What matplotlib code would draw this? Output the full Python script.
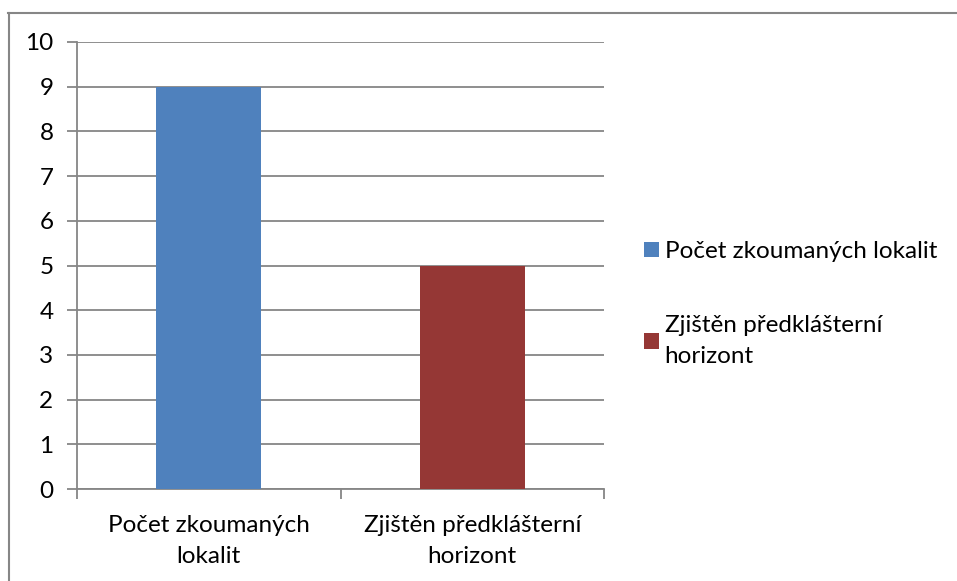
import matplotlib.pyplot as plt
from matplotlib.lines import Line2D
from matplotlib.patches import Patch

categories = ["Počet zkoumaných\nlokalit", "Zjištěn předklášterní\nhorizont"]
legend_labels = ["Počet zkoumaných lokalit", "Zjištěn předklášterní\nhorizont"]
values = [9, 5]
colors = ["#4F81BD", "#953735"]
yticks = list(range(0, 11))

plt.rcParams['font.family'] = ['Lato', 'DejaVu Sans']
grid_c = "#868686"
fs = 17.5

fig = plt.figure(figsize=(9.57, 5.81), dpi=100)
ax = fig.add_axes([77 / 957, 1 - 489 / 581, (604 - 77) / 957, (489 - 42) / 581])

x = list(range(len(values)))
ax.bar(x, values, width=0.4, color=colors, zorder=3)

ax.set_xlim(-0.5, len(values) - 0.5)
ax.set_ylim(0, 10)
ax.set_yticks(yticks)
ax.set_yticklabels([str(v) for v in yticks], fontsize=fs)
ax.yaxis.grid(True, color=grid_c, linewidth=1.3, zorder=0)
ax.tick_params(axis='y', length=7, width=1.3, color=grid_c, pad=10)

ax.set_xticks(x)
ax.set_xticklabels(categories, fontsize=fs, linespacing=1.55)
ax.tick_params(axis='x', which='major', length=0, pad=19)
ax.set_xticks([-0.5, 0.5, 1.5], minor=True)
ax.tick_params(axis='x', which='minor', length=7, width=1.3, color=grid_c)

for s in ['top', 'right']:
    ax.spines[s].set_visible(False)
for s in ['left', 'bottom']:
    ax.spines[s].set_color(grid_c)
    ax.spines[s].set_linewidth(1.3)

handles = [Patch(facecolor=c) for c in colors]
leg = fig.legend(handles, legend_labels, loc='upper left', bbox_to_anchor=(644 / 957, 1 - 241 / 581),
                 frameon=False, fontsize=fs, handlelength=0.6, handleheight=0.6,
                 handletextpad=0.25, labelspacing=2.2, borderpad=0, borderaxespad=0)
for t in leg.get_texts():
    t.set_linespacing(1.55)

# outer chart border (cropped)
fig.add_artist(Line2D([8 / 957, 1], [1 - 12.5 / 581, 1 - 12.5 / 581], color="#868686", lw=1.5))
fig.add_artist(Line2D([8.5 / 957, 8.5 / 957], [0, 1 - 12.5 / 581], color="#868686", lw=1.5))

fig.savefig("out.png", dpi=100)
